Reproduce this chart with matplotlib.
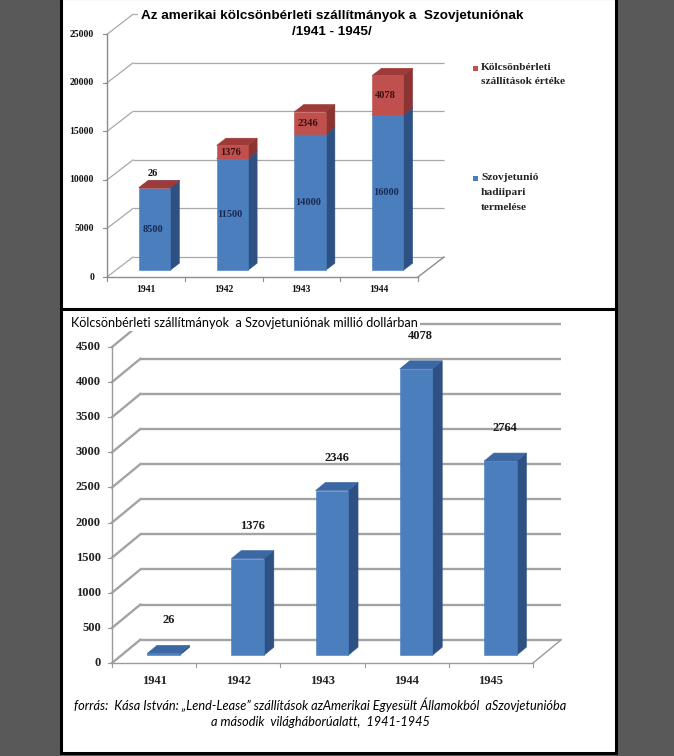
import matplotlib
matplotlib.use('Agg')
import matplotlib.pyplot as plt
from matplotlib.patches import Polygon, Rectangle

# ---------------- data ----------------
top_years = ['1941', '1942', '1943', '1944']
top_production = [8500, 11500, 14000, 16000]
top_lendlease = [26, 1376, 2346, 4078]
top_yticks = [0, 5000, 10000, 15000, 20000, 25000]
top_title = 'Az amerikai kölcsönbérleti szállítmányok a  Szovjetuniónak'
top_subtitle = '/1941 - 1945/'
legend_red = 'Kölcsönbérleti\nszállítások értéke'
legend_blue = 'Szovjetunió\nhadiipari\ntermelése'

bottom_years = ['1941', '1942', '1943', '1944', '1945']
bottom_values = [26, 1376, 2346, 4078, 2764]
bottom_yticks = [0, 500, 1000, 1500, 2000, 2500, 3000, 3500, 4000, 4500]
bottom_title = 'Kölcsönbérleti szállítmányok  a Szovjetuniónak millió dollárban'
source_lines = ['forrás:  Kása István: „Lend-Lease” szállítások azAmerikai Egyesült Államokból  aSzovjetunióba',
                'a második  világháborúalatt,  1941-1945']

# ---------------- style ----------------
W, H = 674, 756
BLUE = ('#4a7ebd', '#2d5183', '#3b67a5')
RED = ('#c0504d', '#8b3432', '#9e3b39')
SERIF = 'Liberation Serif'
SANS = 'Liberation Sans'
CAL = 'Lato'

fig = plt.figure(figsize=(W / 100, H / 100), dpi=100)
fig.patch.set_facecolor('#595959')

# background panel (pixel coordinates)
bg = fig.add_axes([0, 0, 1, 1], zorder=0)
bg.set_xlim(0, W)
bg.set_ylim(H, 0)
bg.axis('off')
bg.add_patch(Rectangle((61, -2), 555, 755, fc='white', ec='black', lw=2.2))
bg.plot([61, 616], [308.5, 308.5], color='black', lw=2.2)

# overlay for texts
ov = fig.add_axes([0, 0, 1, 1], zorder=5)
ov.set_xlim(0, W)
ov.set_ylim(H, 0)
ov.axis('off')
ov.patch.set_visible(False)


def make_axes(rect_px, front_x, floor_y, ppc, ppv):
    x0, y0, x1, y1 = rect_px
    ax = fig.add_axes([x0 / W, 1 - y1 / H, (x1 - x0) / W, (y1 - y0) / H], zorder=2)
    ax.set_xlim((x0 - front_x) / ppc, (x1 - front_x) / ppc)
    ax.set_ylim((floor_y - y1) / ppv, (floor_y - y0) / ppv)
    ax.axis('off')
    ax.patch.set_visible(False)
    return ax


def draw_frame(ax, ncat, ticks, DX, DY, ppc, ppv, gcol, glw, acol):
    for v in ticks:
        ax.plot([DX, ncat + DX], [v + DY, v + DY], color=gcol, lw=glw, zorder=1,
                solid_capstyle='butt')
        ax.plot([0, DX], [v, v + DY], color=gcol, lw=glw, zorder=1)
        ax.plot([-4 / ppc, 0], [v, v], color=acol, lw=0.8, zorder=3)
    ax.plot([0, 0], [0, ticks[-1]], color=acol, lw=1.0, zorder=3)
    ax.plot([0, ncat], [0, 0], color=acol, lw=1.0, zorder=3)
    ax.plot([ncat, ncat + DX], [0, DY], color=acol, lw=1.0, zorder=3)
    for i in range(ncat + 1):
        ax.plot([i, i], [0, -4 / ppv], color=acol, lw=0.8, zorder=3)


def bar3d(ax, xl, bottom, height, width, ddx, ddy, colors, z):
    front, side, top = colors
    x0, x1 = xl, xl + width
    y0, y1 = bottom, bottom + height
    kw = dict(closed=True, lw=0.4, zorder=z)
    ax.add_patch(Polygon([(x1, y0), (x1 + ddx, y0 + ddy), (x1 + ddx, y1 + ddy), (x1, y1)],
                         fc=side, ec=side, **kw))
    ax.add_patch(Polygon([(x0, y1), (x1, y1), (x1 + ddx, y1 + ddy), (x0 + ddx, y1 + ddy)],
                         fc=top, ec=top, **kw))
    ax.add_patch(Polygon([(x0, y0), (x1, y0), (x1, y1), (x0, y1)],
                         fc=front, ec=front, **kw))


# ================= top chart =================
t_fx, t_fy = 107, 277
t_ppc = (418 - 107) / 4
t_ppv = (277 - 34.3) / 25000
axT = make_axes((62, 2, 614, 306), t_fx, t_fy, t_ppc, t_ppv)
T_DX, T_DY = 26 / t_ppc, 20 / t_ppv
draw_frame(axT, len(top_years), top_yticks, T_DX, T_DY, t_ppc, t_ppv, '#a8a8a8', 0.9, '#8c8c8c')

t_w = 0.40
t_f = 0.33
t_d = 0.36
for i, (p, l) in enumerate(zip(top_production, top_lendlease)):
    xl = i + 0.5 - t_w / 2 + t_f * T_DX
    b0 = t_f * T_DY
    bar3d(axT, xl, b0, p, t_w, t_d * T_DX, t_d * T_DY, BLUE, 4 + 2 * i)
    bar3d(axT, xl, b0 + p, l, t_w, t_d * T_DX, t_d * T_DY, RED, 5 + 2 * i)
    xc = xl + t_w / 2 - 2 / t_ppc
    axT.text(xc, b0 + p / 2, f'{p}', ha='center', va='center', family=SERIF,
             fontweight='bold', fontsize=7.5, color='#1b2a55', zorder=20)
    if l > 500:
        axT.text(xc, b0 + p + l / 2, f'{l}', ha='center', va='center', family=SERIF,
                 fontweight='bold', fontsize=7.5, color='#3a1010', zorder=20)
    else:
        axT.text(xc, b0 + p + l + 1500, f'{l}', ha='center', va='center', family=SERIF,
                 fontweight='bold', fontsize=7.5, color='#111111', zorder=20)
    axT.text(i + 0.5, -12 / t_ppv, top_years[i], ha='center', va='center', family=SERIF,
             fontweight='bold', fontsize=7, color='#111111')
for v in top_yticks:
    axT.text(-13 / t_ppc, v, f'{v}', ha='right', va='center', family=SERIF,
             fontweight='bold', fontsize=7, color='#111111')

ov.text(332.5, 16, top_title, ha='center', va='center', family=SANS, fontweight='bold',
        fontsize=9.7, color='black',
        bbox=dict(fc='white', ec='none', pad=2))
ov.text(332, 32, top_subtitle, ha='center', va='center', family=SANS, fontweight='bold',
        fontsize=9.7, color='black')

# legend
for (label, col, y0, gap) in [(legend_red, RED[0], 68, 13.5), (legend_blue, BLUE[0], 178, 14.5)]:
    ov.add_patch(Rectangle((472.5, y0 - 2.5), 5, 5, fc=col, ec='none'))
    for k, line in enumerate(label.split('\n')):
        ov.text(481, y0 + k * gap, line, ha='left', va='center', family=SERIF,
                fontweight='bold', fontsize=8.2, color='#222222')

# ================= bottom chart =================
b_fx, b_fy = 112, 663
b_ppc = (533 - 112) / 5
b_ppv = (663 - 347) / 4500
axB = make_axes((62, 312, 614, 700), b_fx, b_fy, b_ppc, b_ppv)
B_DX, B_DY = 28.3 / b_ppc, 23.3 / b_ppv
draw_frame(axB, len(bottom_years), bottom_yticks, B_DX, B_DY, b_ppc, b_ppv, '#a3a3a3', 1.7, '#9a9a9a')

b_w = 0.387
b_f = 0.33
b_d = 0.35
for i, v in enumerate(bottom_values):
    xl = i + 0.5 - b_w / 2 + b_f * B_DX
    b0 = b_f * B_DY
    bar3d(axB, xl, b0, v, b_w, b_d * B_DX, b_d * B_DY, BLUE, 4 + i)
    axB.text(i + 0.5 + 0.5 * B_DX, b0 + v + 470, f'{v}', ha='center', va='center',
             family=SERIF, fontweight='bold', fontsize=9, color='#1a1a1a', zorder=20)
    axB.text(i + 0.5, -18 / b_ppv, bottom_years[i], ha='center', va='center', family=SERIF,
             fontweight='bold', fontsize=9, color='#222222')
for v in bottom_yticks:
    axB.text(-11 / b_ppc, v, f'{v}', ha='right', va='center', family=SERIF,
             fontweight='bold', fontsize=9, color='#222222')

# title drawn inside the bottom chart axes so it sits above gridlines but below data labels
axB.text(71, 323, bottom_title, transform=ov.transData, ha='left', va='center', family=CAL,
         fontsize=9.1, color='black', zorder=10,
         bbox=dict(fc='white', ec='none', pad=1.5))
ov.text(320, 705, source_lines[0], ha='center', va='center', family=CAL, style='italic',
        fontsize=9.2, color='black')
ov.text(320, 722, source_lines[1], ha='center', va='center', family=CAL, style='italic',
        fontsize=9.2, color='black')

fig.savefig('out.png', dpi=100, facecolor=fig.get_facecolor())
